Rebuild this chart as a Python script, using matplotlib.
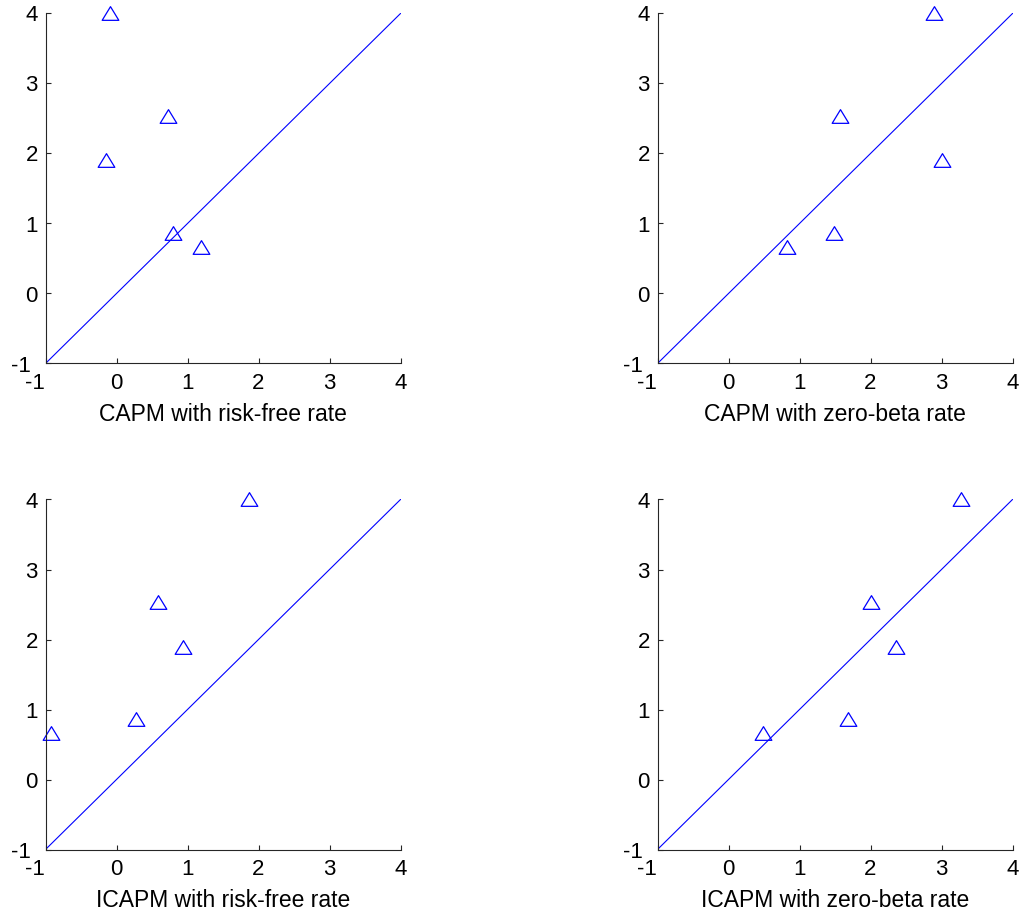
import matplotlib
matplotlib.use("Agg")
import matplotlib.pyplot as plt
import matplotlib.transforms as mtransforms
from matplotlib.path import Path

plt.rcParams['font.family'] = ['Liberation Sans', 'DejaVu Sans']

# Average returns (vertical) versus model-predicted returns (horizontal)
actual = [4.0, 2.54, 1.90, 0.87, 0.67]

capm_rf = [-0.09, 0.72, -0.15, 0.79, 1.19]
capm_zb = [2.90, 1.57, 3.00, 1.49, 0.82]
icapm_rf = [1.86, 0.59, 0.94, 0.27, -0.92]
icapm_zb = [3.28, 2.01, 2.36, 1.68, 0.48]

labels = ["CAPM with risk-free rate", "CAPM with zero-beta rate",
          "ICAPM with risk-free rate", "ICAPM with zero-beta rate"]
predicted = [capm_rf, capm_zb, icapm_rf, icapm_zb]

ticks = [-1, 0, 1, 2, 3, 4]
limits = (-1, 4)

# Wide, open triangle like the MATLAB '^' marker
tri = Path([(0, 0.82), (-1, -0.82), (1, -0.82), (0, 0.82)],
           [Path.MOVETO, Path.LINETO, Path.LINETO, Path.CLOSEPOLY])

fig = plt.figure(figsize=(10.22, 9.13), dpi=100)
W, H = 1022, 913
lefts = [45.5, 657.5]
tops = [13.5, 499.5]
aw, ah = 355, 350

for i, (xs, lab) in enumerate(zip(predicted, labels)):
    r, c = divmod(i, 2)
    ax = fig.add_axes([lefts[c] / W, 1 - (tops[r] + ah) / H, aw / W, ah / H])
    ax.plot(limits, limits, color=(0, 0, 1), lw=0.8)
    ax.plot(xs, actual, linestyle='none', marker=tri, ms=12,
            mfc='none', mec=(0, 0, 1), mew=0.9, clip_on=False)
    ax.set_xlim(limits)
    ax.set_ylim(limits)
    ax.set_xticks(ticks)
    ax.set_yticks(ticks)
    ax.set_xticklabels([str(t) for t in ticks])
    ax.set_yticklabels([str(t) for t in ticks])
    for s in ('top', 'right'):
        ax.spines[s].set_visible(False)
    for s in ('left', 'bottom'):
        ax.spines[s].set_color('#262626')
        ax.spines[s].set_linewidth(0.8)
    ax.tick_params(direction='in', length=3.5, width=0.8, color='#262626',
                   labelsize=16)
    ax.tick_params(axis='x', pad=7)
    ax.tick_params(axis='y', pad=5.5)
    ax.set_xlabel(lab, fontsize=16.5, labelpad=6.5)

    # nudge the corner "-1" labels left, away from the origin
    xt = ax.xaxis.get_major_ticks()[0].label1
    xt.set_transform(xt.get_transform() +
                     mtransforms.ScaledTranslation(-11 / 100, 0, fig.dpi_scale_trans))
    yt = ax.yaxis.get_major_ticks()[0].label1
    yt.set_transform(yt.get_transform() +
                     mtransforms.ScaledTranslation(-7 / 100, 0, fig.dpi_scale_trans))

fig.savefig("out.png", dpi=100)
